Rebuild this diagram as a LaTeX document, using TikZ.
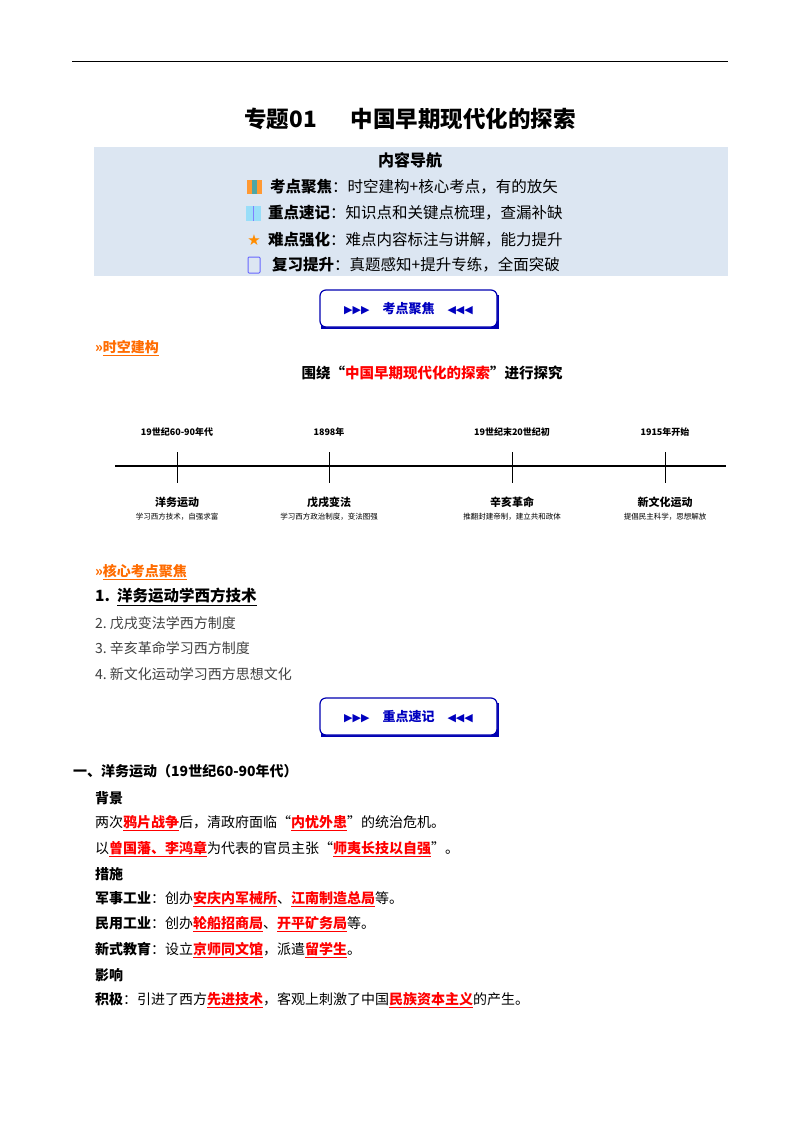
\documentclass[tikz,border=0pt]{standalone}
\usepackage{fontspec}
\setmainfont{Noto Sans CJK SC}
\newfontfamily\sym{DejaVu Sans}
\definecolor{navbg}{HTML}{DCE6F2}
\begin{document}
\begin{tikzpicture}[x=1pt,y=-1pt,
  txt/.style={anchor=west,inner sep=0pt,font=\fontsize{14}{15}\selectfont},
  hd/.style={anchor=west,inner sep=0pt,font=\fontsize{14}{15}\selectfont\bfseries},
  nav/.style={anchor=west,inner sep=0pt,font=\fontsize{15.5}{16}\selectfont},
  btn/.style={draw=blue!70!black,line width=1.2pt,rounded corners=6pt,fill=white,minimum width=177pt,minimum height=37pt,text=blue!75!black,font=\fontsize{13}{14}\selectfont\bfseries},
  sect/.style={anchor=west,inner sep=0pt,text=orange!85!red,font=\fontsize{14}{15}\selectfont\bfseries},
  tick/.style={line width=0.8pt},
  tl/.style={font=\fontsize{9}{10}\selectfont\bfseries,inner sep=0pt},
  tn/.style={font=\fontsize{11}{12}\selectfont\bfseries,inner sep=0pt},
  ts/.style={font=\fontsize{7.5}{8}\selectfont,inner sep=0pt}]
\newcommand\hlr[1]{\textcolor{red}{\bfseries\underline{#1}}}
\useasboundingbox (0,0) rectangle (800,1132);
\fill[white] (0,0) rectangle (800,1132);
\draw[line width=0.8pt] (72,61) -- (728,61);
\node[inner sep=0pt,font=\fontsize{22.5}{23}\selectfont\bfseries] (title) at (410,119) {专题01\hspace{1.5em}中国早期现代化的探索};
\fill[navbg] (94,147) rectangle (728,276);
\node[inner sep=0pt,font=\fontsize{16}{17}\selectfont\bfseries] (navt) at (410,160) {内容导航};
% icons
\fill[orange!80] (247,180) rectangle (262,194); \fill[teal!70] (252,180) rectangle (257,194);
\fill[cyan!40] (246,206) rectangle (261,221); \draw[blue!50] (253.5,206) -- (253.5,221);
\node[inner sep=0pt,text=orange!90!yellow,font=\sym\fontsize{15}{15}\selectfont] (star) at (254,240) {★};
\draw[blue!60,line width=1pt,rounded corners=1pt] (248,257) rectangle (260,273);
\node[nav] (n1) at (270,187) {\textbf{考点聚焦}：时空建构+核心考点，有的放矢};
\node[nav] (n2) at (268,213) {\textbf{重点速记}：知识点和关键点梳理，查漏补缺};
\node[nav] (n3) at (268,240) {\textbf{难点强化}：难点内容标注与讲解，能力提升};
\node[nav] (n4) at (272,265) {\textbf{复习提升}：真题感知+提升专练，全面突破};
\fill[blue!70!black] (321,295) rectangle (499,329);
\node[btn] (b1) at (408.5,308.5) {{\sym\fontsize{11}{12}\selectfont ▶▶▶}\quad 考点聚焦\quad{\sym\fontsize{11}{12}\selectfont ◀◀◀}};
\node[sect] (s1) at (95,348) {»\underline{时空建构}};
\node[inner sep=0pt,font=\fontsize{14.5}{15}\selectfont\bfseries] (sub) at (432,373) {围绕“\textcolor{red}{中国早期现代化的探索}”进行探究};
% timeline
\coordinate (L) at (115,466); \coordinate (R) at (726,466);
\draw[line width=1.8pt] (L) -- (R);
\foreach \x/\top/\nm/\ds [count=\i] in {177/19世纪60-90年代/洋务运动/学习西方技术，自强求富,329/1898年/戊戌变法/学习西方政治制度，变法图强,512/19世纪末20世纪初/辛亥革命/推翻封建帝制，建立共和政体,665/1915年开始/新文化运动/提倡民主科学，思想解放}{
  \coordinate (t\i a) at (\x,452); \coordinate (t\i b) at (\x,483);
  \draw[tick] (t\i a) -- (t\i b);
  \node[tl] (tl\i) at (\x,432) {\top};
  \node[tn] (tn\i) at (\x,502) {\nm};
  \node[ts] (ts\i) at (\x,517) {\ds};
}
\node[sect] (s2) at (95,572) {»\underline{核心考点聚焦}};
\node[anchor=west,inner sep=0pt,font=\fontsize{15.5}{16}\selectfont\bfseries] (k1) at (95,597) {1.\ \ \underline{洋务运动学西方技术}};
\node[txt,text=black!75] (k2) at (95,623) {2.\ 戊戌变法学西方制度};
\node[txt,text=black!75] (k3) at (95,648) {3.\ 辛亥革命学习西方制度};
\node[txt,text=black!75] (k4) at (95,674) {4.\ 新文化运动学习西方思想文化};
\fill[blue!70!black] (321,703) rectangle (499,737);
\node[btn] (b2) at (408.5,716.5) {{\sym\fontsize{11}{12}\selectfont ▶▶▶}\quad 重点速记\quad{\sym\fontsize{11}{12}\selectfont ◀◀◀}};
\node[hd] (h1) at (73,771) {一、洋务运动（19世纪60-90年代）};
\node[hd] (h2) at (95,798) {背景};
\node[txt] (l1) at (95,823) {两次\hlr{鸦片战争}后，清政府面临“\hlr{内忧外患}”的统治危机。};
\node[txt] (l2) at (95,849) {以\hlr{曾国藩、李鸿章}为代表的官员主张“\hlr{师夷长技以自强}”。};
\node[hd] (h3) at (95,874) {措施};
\node[txt] (l3) at (95,899) {\textbf{军事工业}：创办\hlr{安庆内军械所}、\hlr{江南制造总局}等。};
\node[txt] (l4) at (95,924) {\textbf{民用工业}：创办\hlr{轮船招商局}、\hlr{开平矿务局}等。};
\node[txt] (l5) at (95,950) {\textbf{新式教育}：设立\hlr{京师同文馆}，派遣\hlr{留学生}。};
\node[hd] (h4) at (95,975) {影响};
\node[txt] (l6) at (95,1000) {\textbf{积极}：引进了西方\hlr{先进技术}，客观上刺激了中国\hlr{民族资本主义}的产生。};
\end{tikzpicture}
\end{document}
